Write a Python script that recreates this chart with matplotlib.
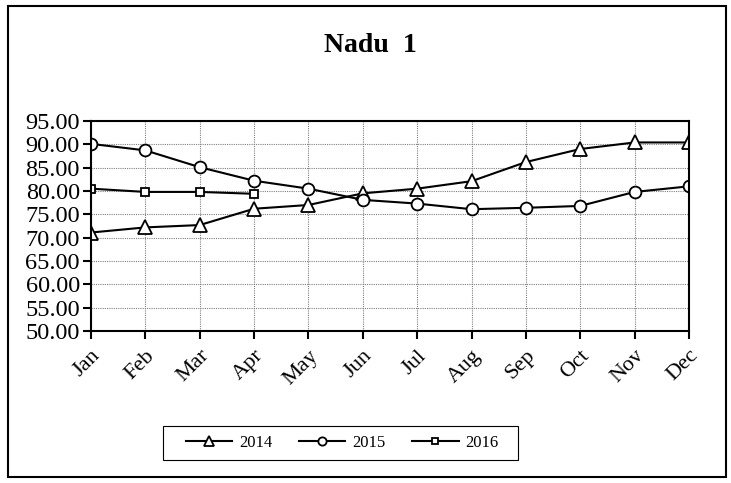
import matplotlib
matplotlib.use("Agg")
import matplotlib.pyplot as plt
from matplotlib.patches import Rectangle

plt.rcParams['font.family'] = ['Liberation Serif', 'DejaVu Serif']

months = ["Jan", "Feb", "Mar", "Apr", "May", "Jun", "Jul", "Aug", "Sep", "Oct", "Nov", "Dec"]
y2014 = [71.1, 72.2, 72.7, 76.2, 77.0, 79.5, 80.5, 82.1, 86.2, 89.0, 90.4, 90.4]
y2015 = [90.1, 88.7, 85.1, 82.2, 80.5, 78.1, 77.3, 76.1, 76.4, 76.8, 79.8, 81.0]
y2016 = [80.5, 79.8, 79.8, 79.4]
yticks = [50, 55, 60, 65, 70, 75, 80, 85, 90, 95]

fig = plt.figure(figsize=(7.31, 4.83), dpi=100)
ax = fig.add_axes([0.1245, 0.3147, 0.818, 0.4348])

x = list(range(len(months)))
ax.plot(x, y2014, color='black', lw=1.5, marker='^', ms=9.5, mfc='white', mec='black', mew=1.3, label='2014')
ax.plot(x, y2015, color='black', lw=1.5, marker='o', ms=8.5, mfc='white', mec='black', mew=1.3, label='2015')
ax.plot(x[:len(y2016)], y2016, color='black', lw=1.5, marker='s', ms=6, mfc='white', mec='black', mew=1.3, label='2016')

ax.set_xlim(0, 11)
ax.set_ylim(50, 95)
ax.set_yticks(yticks)
ax.set_yticklabels([f"{v:.2f}" for v in yticks], fontsize=17.5)
ax.set_xticks(x)
ax.set_xticklabels(months, fontsize=16, rotation=45, ha='right', rotation_mode='anchor')
ax.tick_params(axis='both', direction='out', length=6, width=1.5)
ax.tick_params(axis='y', pad=2)
ax.tick_params(axis='x', pad=5)
ax.grid(True, color='#808080', ls=(0, (1, 1)), lw=0.8)
for s in ax.spines.values():
    s.set_linewidth(1.5)

fig.text(0.506, 0.905, "Nadu  1", ha='center', va='center', fontsize=20, fontweight='bold')

# legend box drawn separately so its padding matches the original
leg = fig.legend(loc='center', bbox_to_anchor=(0.468, 0.083), ncol=3, fontsize=12,
                 frameon=False, markerscale=0.7,
                 handlelength=2.8, handletextpad=0.4, columnspacing=1.6,
                 borderpad=0.3, borderaxespad=0)
fig.add_artist(Rectangle((163 / 731, 1 - 460 / 483), 355 / 731, 34 / 483, transform=fig.transFigure,
                         fill=False, edgecolor='black', lw=0.8))

fig.add_artist(Rectangle((8 / 731, 6 / 483), 718 / 731, 471 / 483, transform=fig.transFigure,
                         fill=False, edgecolor='black', lw=1.5))

fig.savefig("out.png", dpi=100)
